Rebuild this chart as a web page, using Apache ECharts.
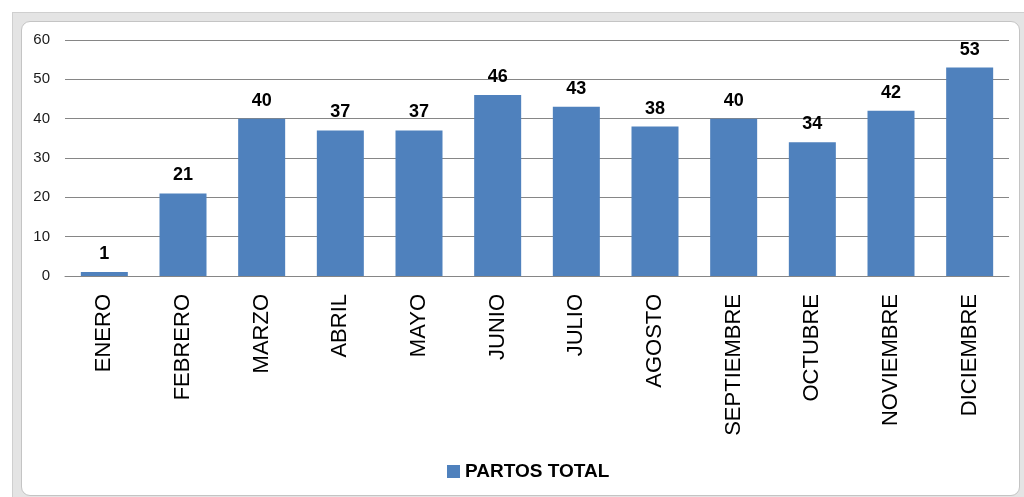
<!DOCTYPE html>
<html>
<head>
<meta charset="utf-8">
<script src="https://cdn.jsdelivr.net/npm/echarts@6/dist/echarts.min.js"></script>
<style>
html,body{margin:0;padding:0;width:1024px;height:497px;overflow:hidden;background:#ffffff;}
#frame{position:absolute;left:12px;top:12px;width:1030px;height:500px;background:#e4e4e4;border-left:1px solid #cfcfcf;border-top:1px solid #cfcfcf;}
#chart{position:absolute;left:21px;top:21px;width:997px;height:473px;background:#ffffff;border-radius:9px;border:1px solid #c4c4c4;}
</style>
</head>
<body>
<div id="frame"></div>
<div id="chart"></div>
<script>
var categories = ['ENERO','FEBRERO','MARZO','ABRIL','MAYO','JUNIO','JULIO','AGOSTO','SEPTIEMBRE','OCTUBRE','NOVIEMBRE','DICIEMBRE'];
var partosTotal = [1,21,40,37,37,46,43,38,40,34,42,53];
var seriesName = 'PARTOS TOTAL';
var yMin = 0, yMax = 60, yStep = 10;

var chart = echarts.init(document.getElementById('chart'));
chart.setOption({
  animation: false,
  textStyle: { fontFamily: 'Liberation Sans, Arial, sans-serif' },
  grid: { left: 43, right: 10, top: 18, bottom: 219, containLabel: false },
  legend: {
    data: [seriesName],
    left: 420,
    top: 435,
    itemWidth: 13,
    itemHeight: 13,
    itemGap: 8,
    icon: 'rect',
    textStyle: { fontSize: 19, fontWeight: 'bold', color: '#000' }
  },
  xAxis: {
    type: 'category',
    data: categories,
    axisLine: { show: true, lineStyle: { color: '#868686', width: 1 } },
    axisTick: { show: false },
    axisLabel: { rotate: 90, fontSize: 22, color: '#000', margin: 18, interval: 0 }
  },
  yAxis: {
    type: 'value',
    min: yMin, max: yMax, interval: yStep,
    axisLine: { show: false },
    axisTick: { show: false },
    axisLabel: { fontSize: 15, color: '#1a1a1a', margin: 15 },
    splitLine: { lineStyle: { color: '#868686', width: 1 } }
  },
  series: [{
    name: seriesName,
    type: 'bar',
    data: partosTotal,
    barWidth: 47,
    itemStyle: { color: '#4f81bd' },
    label: { show: true, position: 'top', distance: 9, fontSize: 18, fontWeight: 'bold', color: '#000' }
  }]
});
</script>
</body>
</html>
